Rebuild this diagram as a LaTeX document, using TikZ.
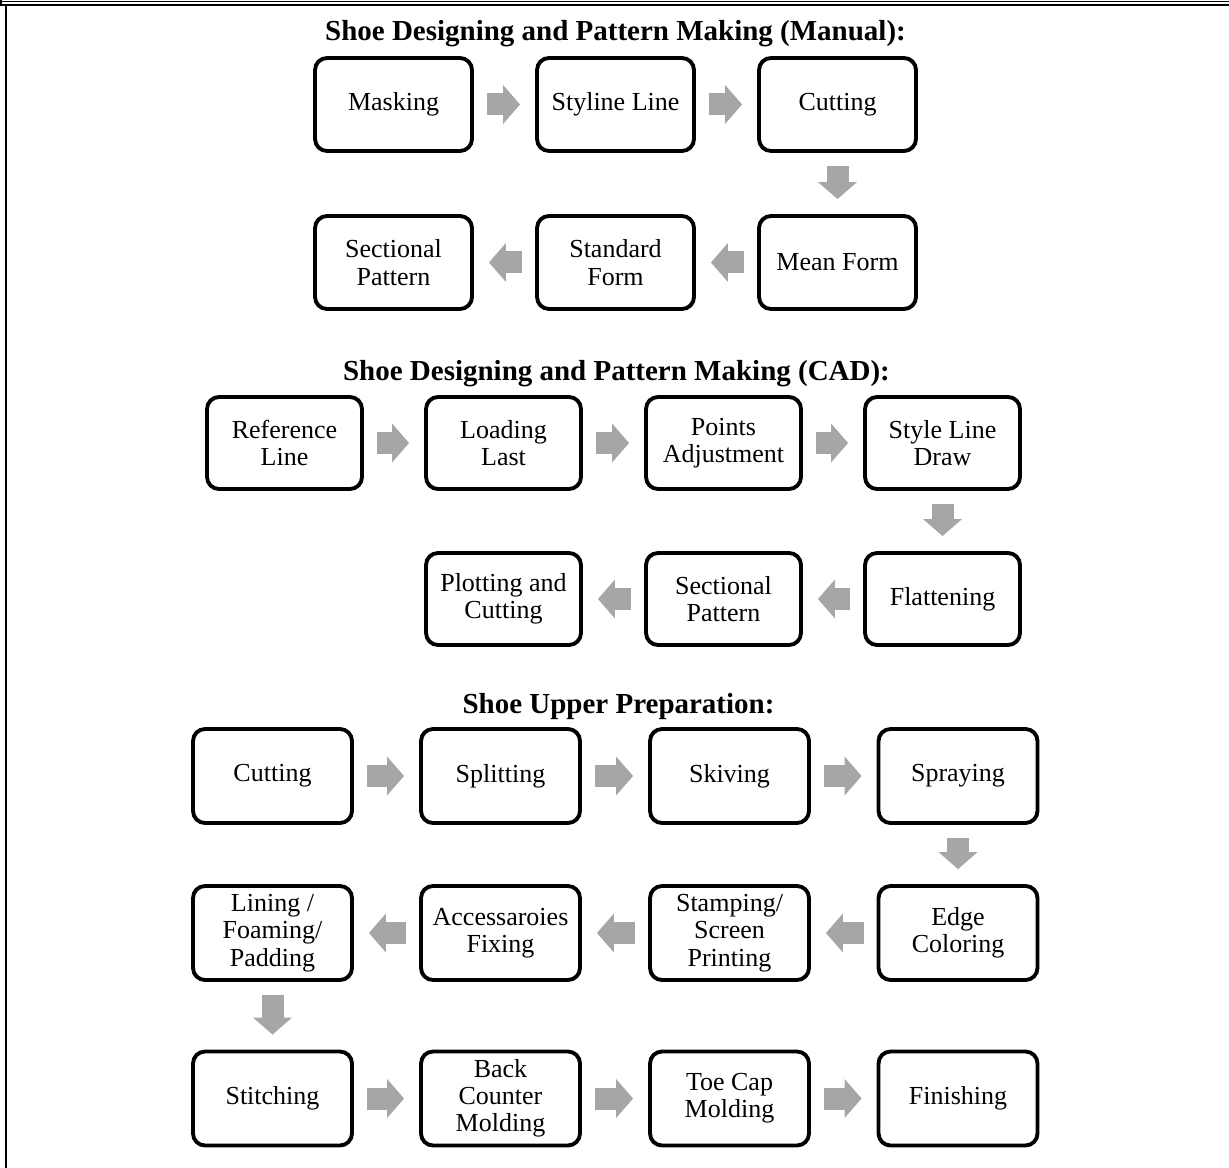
\documentclass[tikz,border=0pt]{standalone}
\usepackage{fontspec}
\setmainfont{Liberation Serif}
\usetikzlibrary{arrows.meta, positioning}

\begin{document}
\begin{tikzpicture}[x=0.02cm, y=-0.02cm,
        every node/.style={font=\fontsize{14.8}{15.5}\selectfont, align=center},
        title/.style={font=\fontsize{16.5}{18}\selectfont\bfseries},
        stepbox/.style={draw, line width=2.2pt, rounded corners=0.24cm, inner sep=1pt},
        manbox/.style={stepbox, minimum width=3.14cm, minimum height=1.86cm},
        cadbox/.style={stepbox, minimum width=3.10cm, minimum height=1.84cm},
        uppbox/.style={stepbox, minimum width=3.18cm, minimum height=1.88cm},
        flow/.style={line width=0.44cm, black!35, -{Triangle[length=0.34cm, width=0.76cm]}, shorten <=0.26cm, shorten >=0.3cm},
        frame/.style={line width=1.1pt}
      ]
      \useasboundingbox (0,0) rectangle (1229,1168);
      % page frame
      \draw[frame] (0,1.5) -- (1229,1.5);
      \draw[frame] (0,5) -- (1229,5);
      \draw[frame] (0.6,0) -- (0.6,5);
      \draw[frame] (6,5) -- (6,1168);

      % manual
      \node[title] (tman) at (615.5,34) {Shoe Designing and Pattern Making (Manual):};
      \node[manbox] (m1) at (393.5,104.5) {Masking};
      \node[manbox] (m2) at (615.5,104.5) {Styline Line};
      \node[manbox] (m3) at (837.5,104.5) {Cutting};
      \node[manbox] (m4) at (837.5,262.5) {Mean Form};
      \node[manbox] (m5) at (615.5,262.5) {Standard\\Form};
      \node[manbox] (m6) at (393.5,262.5) {Sectional\\Pattern};
      \draw[flow] (m1.east) -- (m2.west);
      \draw[flow] (m2.east) -- (m3.west);
      \draw[flow] (m3.south) -- (m4.north);
      \draw[flow] (m4.west) -- (m5.east);
      \draw[flow] (m5.west) -- (m6.east);

      % cad
      \node[title] (tcad) at (616.5,374) {Shoe Designing and Pattern Making (CAD):};
      \node[cadbox] (c1) at (284.5,443) {Reference\\Line};
      \node[cadbox] (c2) at (503.5,443) {Loading\\Last};
      \node[cadbox] (c3) at (723.5,443) {Points\\Adjustment};
      \node[cadbox] (c4) at (942.5,443) {Style Line\\Draw};
      \node[cadbox] (c5) at (942.5,599) {Flattening};
      \node[cadbox] (c6) at (723.5,599) {Sectional\\Pattern};
      \node[cadbox] (c7) at (503.5,599) {Plotting and\\Cutting};
      \draw[flow] (c1.east) -- (c2.west);
      \draw[flow] (c2.east) -- (c3.west);
      \draw[flow] (c3.east) -- (c4.west);
      \draw[flow] (c4.south) -- (c5.north);
      \draw[flow] (c5.west) -- (c6.east);
      \draw[flow] (c6.west) -- (c7.east);

      % upper
      \node[title] (tupp) at (618.5,707) {Shoe Upper Preparation:};
      \node[uppbox] (u1) at (272.5,776) {Cutting};
      \node[uppbox] (u2) at (500.5,776) {Splitting};
      \node[uppbox] (u3) at (729.5,776) {Skiving};
      \node[uppbox] (u4) at (958,776) {Spraying};
      \node[uppbox] (u5) at (958,933) {Edge\\Coloring};
      \node[uppbox] (u6) at (729.5,933) {Stamping/\\Screen\\Printing};
      \node[uppbox] (u7) at (500.5,933) {Accessaroies\\Fixing};
      \node[uppbox] (u8) at (272.5,933) {Lining /\\Foaming/\\Padding};
      \node[uppbox] (u9) at (272.5,1098.5) {Stitching};
      \node[uppbox] (u10) at (500.5,1098.5) {Back\\Counter\\Molding};
      \node[uppbox] (u11) at (729.5,1098.5) {Toe Cap\\Molding};
      \node[uppbox] (u12) at (958,1098.5) {Finishing};
      \draw[flow] (u1.east) -- (u2.west);
      \draw[flow] (u2.east) -- (u3.west);
      \draw[flow] (u3.east) -- (u4.west);
      \draw[flow] (u4.south) -- (u5.north);
      \draw[flow] (u5.west) -- (u6.east);
      \draw[flow] (u6.west) -- (u7.east);
      \draw[flow] (u7.west) -- (u8.east);
      \draw[flow] (u8.south) -- (u9.north);
      \draw[flow] (u9.east) -- (u10.west);
      \draw[flow] (u10.east) -- (u11.west);
      \draw[flow] (u11.east) -- (u12.west);
\end{tikzpicture}
\end{document}
